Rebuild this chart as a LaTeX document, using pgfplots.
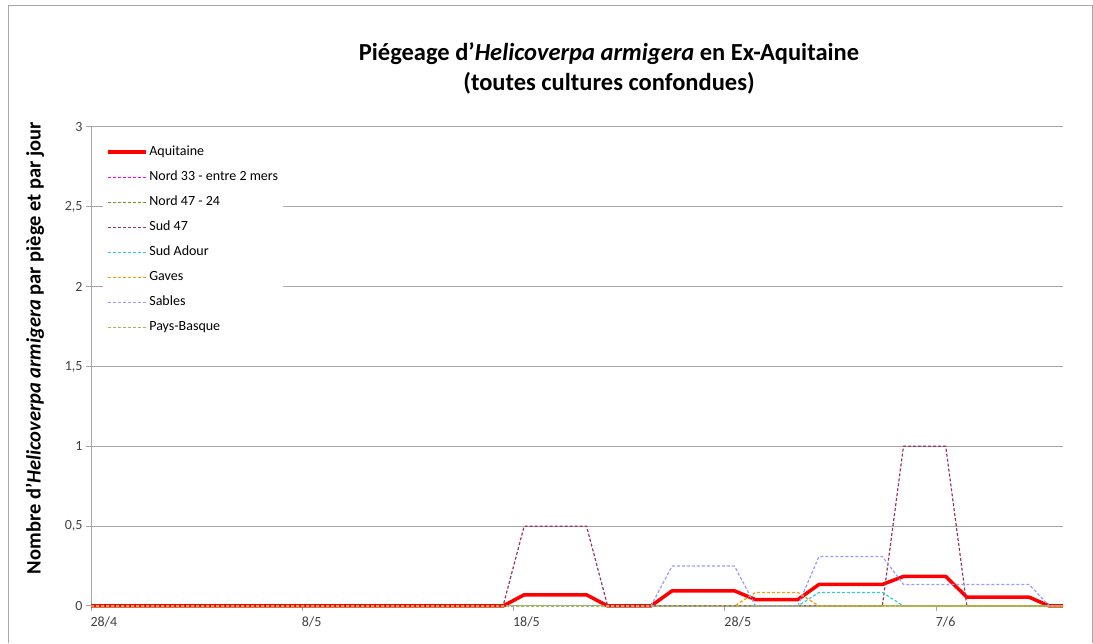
\documentclass[border=0pt]{standalone}
\usepackage{pgfplots}
\pgfplotsset{compat=1.18}
\usepackage{fontspec}
\setmainfont{Carlito}

\definecolor{gridgray}{HTML}{A6A6A6}
\definecolor{txtgray}{HTML}{404040}
\definecolor{cAq}{HTML}{FF0000}
\definecolor{cN33}{HTML}{FF00FF}
\definecolor{cN47}{HTML}{8C8C1E}
\definecolor{cS47}{HTML}{993366}
\definecolor{cSA}{HTML}{33CCCC}
\definecolor{cGa}{HTML}{FF9900}
\definecolor{cSa}{HTML}{9999FF}
\definecolor{cPB}{HTML}{9BBB59}

\begin{document}
\begin{tikzpicture}
\begin{axis}[
  scale only axis, width=972pt, height=479pt,
  xmin=0, xmax=46, ymin=0, ymax=3,
  clip=false,
  axis x line*=bottom, axis y line*=left,
  axis line style={-, gridgray, line width=1pt},
  xtick={0,10,20,30,40},
  xticklabels={28/4,8/5,18/5,28/5,7/6},
  ytick={0,0.5,1,1.5,2,2.5,3},
  yticklabels={0,{0,5},1,{1,5},2,{2,5},3},
  tick align=outside, major tick length=5pt,
  tick style={gridgray, line width=1pt},
  ticklabel style={font=\fontsize{14}{16}\selectfont, text=txtgray},
  xticklabel style={anchor=north west, xshift=-4pt, yshift=-2pt},
  ymajorgrids, grid style={gridgray, line width=1pt},
  ylabel={\bfseries Nombre d'\textit{Helicoverpa armigera} par piège et par jour},
  ylabel style={font=\fontsize{20.5}{24}\selectfont, at={(axis description cs:0,0.5)},
    anchor=center, xshift=18.5pt, yshift=56pt},
  legend style={draw=none, fill=white, at={(0.012,0.973)}, anchor=north west,
    font=\fontsize{14}{16}\selectfont,
    inner xsep=3pt, inner ysep=6pt, row sep=13pt,
    nodes={inner xsep=2pt, inner ysep=1pt, text height=8pt, text depth=2pt}},
  legend cell align=left,
  legend image code/.code={\draw[#1] (2pt,0pt) -- (40pt,0pt);},
  every axis plot/.append style={line join=round},
]
\addplot[color=cAq, line width=3.5pt] coordinates {
(0,0) (19.5,0) (20.5,0.07) (23.45,0.07) (24.45,0) (26.5,0) (27.5,0.095) (30.45,0.095)
(31.45,0.04) (33.45,0.04) (34.45,0.135) (37.45,0.135) (38.45,0.185) (40.45,0.185)
(41.45,0.055) (44.4,0.055) (45.35,0) (46,0)};
\addlegendentry{Aquitaine}
\addplot[color=cN33, line width=1.2pt, dash pattern=on 3pt off 2pt] coordinates {(0,0) (46,0)};
\addlegendentry{Nord 33 - entre 2 mers}
\addplot[color=cN47, line width=1.2pt, dash pattern=on 3pt off 2pt] coordinates {(0,0) (46,0)};
\addlegendentry{Nord 47 - 24}
\addplot[color=cS47, line width=1.2pt, dash pattern=on 3pt off 2pt] coordinates {
(0,0) (19.5,0) (20.5,0.5) (23.45,0.5) (24.45,0) (37.45,0) (38.45,1) (40.45,1) (41.45,0) (46,0)};
\addlegendentry{Sud 47}
\addplot[color=cSA, line width=1.2pt, dash pattern=on 3pt off 2pt] coordinates {
(0,0) (33.45,0) (34.45,0.085) (37.45,0.085) (38.45,0) (46,0)};
\addlegendentry{Sud Adour}
\addplot[color=cGa, line width=1.2pt, dash pattern=on 3pt off 2pt] coordinates {
(0,0) (30.45,0) (31.45,0.085) (33.45,0.085) (34.45,0) (46,0)};
\addlegendentry{Gaves}
\addplot[color=cSa, line width=1.2pt, dash pattern=on 3pt off 2pt] coordinates {
(0,0) (26.5,0) (27.5,0.25) (30.45,0.25) (31.45,0) (33.45,0) (34.45,0.31) (37.45,0.31)
(38.45,0.135) (44.4,0.135) (45.35,0) (46,0)};
\addlegendentry{Sables}
\addplot[color=cPB, line width=1.2pt, dash pattern=on 3pt off 2pt] coordinates {(0,0) (46,0)};
\addlegendentry{Pays-Basque}
% page extent, chart frame and title (positions relative to the plot area)
\path (rel axis cs:-0.093621,-0.07724) rectangle (rel axis cs:1.030864,1.265136);
\draw[gridgray, line width=1pt] (rel axis cs:-0.084877,-0.07724)
  -- (rel axis cs:-0.084877,1.25261) -- (rel axis cs:1.029835,1.25261)
  -- (rel axis cs:1.029835,-0.07724);
\node[font=\bfseries\fontsize{24.5}{30}\selectfont, align=center]
  at (rel axis cs:0.53292,1.12317)
  {Piégeage d'\textit{Helicoverpa armigera} en Ex-Aquitaine\\(toutes cultures confondues)};
\end{axis}
\end{tikzpicture}
\end{document}
